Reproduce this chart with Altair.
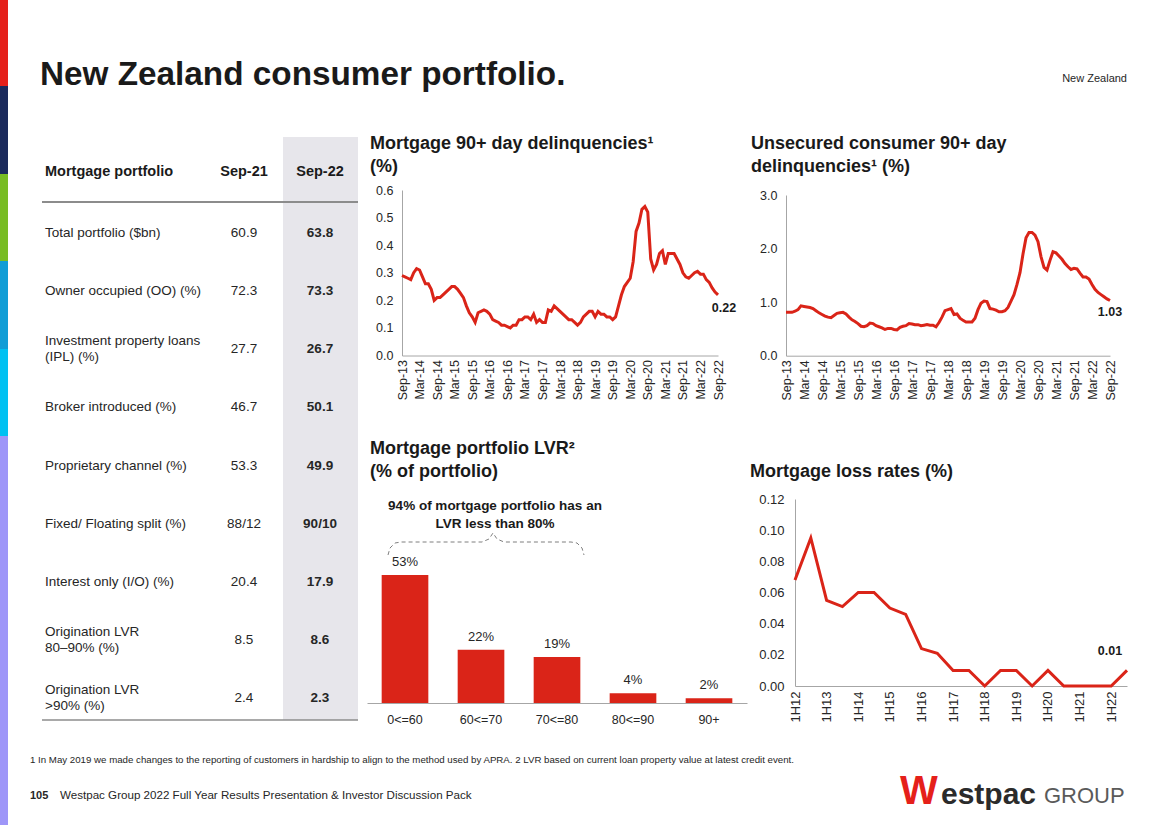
import altair as alt
import pandas as pd

FONT = "Arial"
RED = "#DA2418"
INK = "#1A1A1A"
LABEL = "#262626"
AXIS_GREY = "#A6A6A6"
CANVAS_W, CANVAS_H = 1168, 825

# ---------------- data ----------------
table_rows = [
    "Total portfolio ($bn)",
    "Owner occupied (OO) (%)",
    "Investment property loans\n(IPL) (%)",
    "Broker introduced (%)",
    "Proprietary channel (%)",
    "Fixed/ Floating split (%)",
    "Interest only (I/O) (%)",
    "Origination LVR\n80–90% (%)",
    "Origination LVR\n\u00a0>90% (%)",
]
sep21 = ["60.9", "72.3", "27.7", "46.7", "53.3", "88/12", "20.4", "8.5", "2.4"]
sep22 = ["63.8", "73.3", "26.7", "50.1", "49.9", "90/10", "17.9", "8.6", "2.3"]

MONTH_NAMES = ["Jan", "Feb", "Mar", "Apr", "May", "Jun",
               "Jul", "Aug", "Sep", "Oct", "Nov", "Dec"]
months = [f"{MONTH_NAMES[(8 + i) % 12]}-{13 + (8 + i) // 12}" for i in range(109)]
month_ticks = months[::6]

mortgage_90 = [
    0.29, 0.285, 0.28, 0.275, 0.30, 0.315, 0.31, 0.285, 0.26, 0.26,
    0.24, 0.20, 0.21, 0.21, 0.22, 0.23, 0.24, 0.25, 0.25, 0.24,
    0.225, 0.21, 0.18, 0.155, 0.14, 0.12, 0.155, 0.16, 0.165, 0.16,
    0.15, 0.13, 0.125, 0.12, 0.11, 0.11, 0.105, 0.10, 0.11, 0.11,
    0.13, 0.13, 0.14, 0.14, 0.13, 0.15, 0.12, 0.13, 0.12, 0.12,
    0.165, 0.16, 0.18, 0.17, 0.16, 0.15, 0.14, 0.13, 0.13, 0.12,
    0.11, 0.12, 0.14, 0.15, 0.16, 0.16, 0.14, 0.16, 0.15, 0.15,
    0.14, 0.14, 0.13, 0.14, 0.18, 0.22, 0.25, 0.265, 0.28, 0.34,
    0.45, 0.48, 0.53, 0.54, 0.52, 0.35, 0.31, 0.33, 0.37, 0.38,
    0.33, 0.37, 0.37, 0.37, 0.35, 0.33, 0.30, 0.285, 0.28, 0.29,
    0.30, 0.305, 0.295, 0.295, 0.275, 0.265, 0.245, 0.23, 0.22,
]
unsecured_90 = [
    0.81, 0.81, 0.81, 0.83, 0.86, 0.93, 0.92, 0.91, 0.90, 0.88,
    0.84, 0.80, 0.77, 0.74, 0.72, 0.71, 0.75, 0.79, 0.80, 0.81,
    0.78, 0.72, 0.67, 0.64, 0.60, 0.55, 0.54, 0.56, 0.61, 0.60,
    0.56, 0.54, 0.52, 0.49, 0.51, 0.51, 0.49, 0.48, 0.53, 0.55,
    0.56, 0.60, 0.59, 0.58, 0.58, 0.56, 0.57, 0.58, 0.57, 0.57,
    0.54, 0.62, 0.72, 0.84, 0.86, 0.88, 0.77, 0.78, 0.70, 0.66,
    0.63, 0.63, 0.63, 0.70, 0.86, 0.98, 1.02, 1.01, 0.88, 0.87,
    0.85, 0.82, 0.82, 0.84, 0.90, 1.02, 1.14, 1.33, 1.55, 1.90,
    2.20, 2.30, 2.30, 2.25, 2.13, 1.85, 1.65, 1.60, 1.78, 1.94,
    1.92, 1.86, 1.80, 1.72, 1.66, 1.61, 1.63, 1.62, 1.54, 1.47,
    1.47, 1.43, 1.33, 1.24, 1.18, 1.14, 1.10, 1.06, 1.03,
]

lvr_bands = ["0<=60", "60<=70", "70<=80", "80<=90", "90+"]
lvr_share = [53, 22, 19, 4, 2]

halves = [f"{h}H{y}" for y in range(12, 23) for h in (1, 2)]
half_ticks = [h for h in halves if h.startswith("1H")]
loss_rates = [0.068, 0.095, 0.055, 0.051, 0.060, 0.060, 0.050, 0.046, 0.024, 0.021, 0.010,
              0.010, 0.000, 0.010, 0.010, 0.000, 0.010, 0.000, 0.000, 0.000, 0.000, 0.010]

# shape of the dashed brace (in its own small unit box)
brace_u = [0, 2, 7, 13, 94, 101, 105, 109, 116, 183, 189, 194, 196]
brace_v = [22, 15, 10, 9, 9, 6, 0, 6, 9, 9, 10, 15, 22]

# ---------------- helpers ----------------
def text_at(s, x, y, size, weight="normal", color=INK, align="left",
            baseline="alphabetic", line_height=None):
    kw = dict(align=align, baseline=baseline, font=FONT, fontSize=size,
              fontWeight=weight, color=color, lineBreak="\n")
    if line_height:
        kw["lineHeight"] = line_height
    return alt.Chart(pd.DataFrame({"t": [s]})).mark_text(**kw).encode(
        x=alt.value(x), y=alt.value(y), text="t:N")


def box(x, x2, y, y2, color):
    return alt.Chart(pd.DataFrame({"a": [0]})).mark_rect(color=color).encode(
        x=alt.value(x), x2=alt.value(x2), y=alt.value(y), y2=alt.value(y2))


def hrule(x, x2, y, color, width):
    return alt.Chart(pd.DataFrame({"a": [0]})).mark_rule(color=color, strokeWidth=width).encode(
        x=alt.value(x), x2=alt.value(x2), y=alt.value(y), y2=alt.value(y))


def y_axis(left_px, values, fmt, size=12.5, pad=9):
    return alt.Axis(orient="left", offset=-left_px, values=values, format=fmt, title=None,
                    grid=False, ticks=False, tickSize=0, domainColor=AXIS_GREY, domainWidth=1,
                    labelFont=FONT, labelFontSize=size, labelColor=LABEL, labelPadding=pad)


def x_axis(bottom_px, values, size=12.5, angle=270, pad=4, baseline=None):
    kw = dict(orient="bottom", offset=bottom_px - CANVAS_H, values=values, labelAngle=angle,
              title=None, grid=False, ticks=False, tickSize=0, domainColor=AXIS_GREY,
              domainWidth=1, labelFont=FONT, labelFontSize=size, labelColor=LABEL,
              labelPadding=pad, labelOverlap=False)
    if baseline:
        kw["labelBaseline"] = baseline
    return alt.Axis(**kw)


layers = []

# ---------------- slide furniture ----------------
bar_colors = ["#E5201A", "#1B2A5C", "#78BC24", "#119DD6", "#00C1F2", "#9E96F8"]
bar_edges = [0, 86, 174, 261, 349, 436, 825]
for i, c in enumerate(bar_colors):
    layers.append(box(0, 8, bar_edges[i], bar_edges[i + 1], c))

layers.append(text_at("New Zealand consumer portfolio.", 40, 85, 33.3, "bold"))
layers.append(text_at("New Zealand", 1127, 82, 11, align="right", color="#262626"))

# ---------------- table ----------------
layers.append(box(283, 358, 137, 720, "#E7E6EB"))
layers.append(hrule(42, 358, 202, "#8C8C8C", 2))
layers.append(hrule(42, 358, 720, "#8C8C8C", 1.5))
layers.append(text_at("Mortgage portfolio", 45, 176, 14.5, "bold"))
layers.append(text_at("Sep-21", 244, 176, 14.5, "bold", align="center"))
layers.append(text_at("Sep-22", 320, 176, 14.5, "bold", align="center"))

df_tab = pd.DataFrame({"row": table_rows, "a": sep21, "b": sep22,
                       "nlines": [r.count("\n") + 1 for r in table_rows]})
row_scale = alt.Scale(type="point", domain=table_rows, range=[233, 698], padding=0)
for n, shift in [(1, 0), (2, -8)]:
    layers.append(
        alt.Chart(df_tab).transform_filter(alt.datum.nlines == n)
        .mark_text(align="left", baseline="middle", font=FONT, fontSize=13.5, color=LABEL,
                   lineBreak="\n", lineHeight=16, dy=shift)
        .encode(x=alt.value(45), y=alt.Y("row:N", scale=row_scale, axis=None), text="row:N"))
for col, xpos, weight in [("a", 244, "normal"), ("b", 320, "bold")]:
    layers.append(
        alt.Chart(df_tab).mark_text(align="center", baseline="middle", font=FONT, fontSize=13.5,
                                    fontWeight=weight, color=LABEL)
        .encode(x=alt.value(xpos), y=alt.Y("row:N", scale=row_scale, axis=None),
                text=f"{col}:N"))

# ---------------- chart titles ----------------
layers.append(text_at("Mortgage 90+ day delinquencies¹\n(%)", 370, 149, 18, "bold", line_height=23))
layers.append(text_at("Unsecured consumer 90+ day\ndelinquencies¹ (%)", 751, 149, 18, "bold", line_height=23))
layers.append(text_at("Mortgage portfolio LVR²\n(% of portfolio)", 370, 454, 18, "bold", line_height=23))
layers.append(text_at("Mortgage loss rates (%)", 750, 477, 18, "bold"))

# ---------------- mortgage 90+ ----------------
df_m = pd.DataFrame({"i": range(len(months)), "month": months, "value": mortgage_90})
xs_m = alt.Scale(type="point", domain=months, range=[402, 718], padding=0)
ys_m = alt.Scale(domain=[0, 0.6], range=[355.5, 190], nice=False, zero=False)
layers.append(
    alt.Chart(df_m).mark_line(color=RED, strokeWidth=3).encode(
        x=alt.X("month:O", scale=xs_m, axis=x_axis(355.5, month_ticks)),
        y=alt.Y("value:Q", scale=ys_m,
                axis=y_axis(402, [0, 0.1, 0.2, 0.3, 0.4, 0.5, 0.6], ".1f")),
        order="i:Q"))
layers.append(
    alt.Chart(df_m.tail(1)).mark_text(font=FONT, fontSize=12.5, fontWeight="bold", color=INK,
                                      dx=6, dy=13).encode(
        x=alt.X("month:O", scale=xs_m, axis=None),
        y=alt.Y("value:Q", scale=ys_m, axis=None),
        text=alt.Text("value:Q", format=".2f")))

# ---------------- unsecured 90+ ----------------
df_u = pd.DataFrame({"i": range(len(months)), "month": months, "value": unsecured_90})
xs_u = alt.Scale(type="point", domain=months, range=[786, 1110], padding=0)
ys_u = alt.Scale(domain=[0, 3], range=[355.7, 195], nice=False, zero=False)
layers.append(
    alt.Chart(df_u).mark_line(color=RED, strokeWidth=3).encode(
        x=alt.X("month:O", scale=xs_u, axis=x_axis(355.7, month_ticks)),
        y=alt.Y("value:Q", scale=ys_u, axis=y_axis(786, [0, 1, 2, 3], ".1f")),
        order="i:Q"))
layers.append(
    alt.Chart(df_u.tail(1)).mark_text(font=FONT, fontSize=12.5, fontWeight="bold", color=INK,
                                      dx=0, dy=11).encode(
        x=alt.X("month:O", scale=xs_u, axis=None),
        y=alt.Y("value:Q", scale=ys_u, axis=None),
        text=alt.Text("value:Q", format=".2f")))

# ---------------- LVR bars ----------------
df_l = pd.DataFrame({"band": lvr_bands, "share": lvr_share,
                     "lab": [f"{v}%" for v in lvr_share]})
xs_l = alt.Scale(type="band", domain=lvr_bands, range=[367, 747],
                 paddingInner=0.386, paddingOuter=0.193)
ys_l = alt.Scale(domain=[0, 53], range=[703, 575], nice=False, zero=True)
layers.append(
    alt.Chart(df_l).mark_bar(color=RED).encode(
        x=alt.X("band:N", scale=xs_l, sort=None,
                axis=x_axis(703, lvr_bands, size=12.5, angle=0, pad=10, baseline="top")),
        y=alt.Y("share:Q", scale=ys_l, axis=None)))
layers.append(
    alt.Chart(df_l).mark_text(font=FONT, fontSize=13, color=LABEL, dy=-13).encode(
        x=alt.X("band:N", scale=xs_l, sort=None, axis=None),
        y=alt.Y("share:Q", scale=ys_l, axis=None),
        text="lab:N"))
layers.append(text_at("94% of mortgage portfolio has an\nLVR less than 80%", 495, 510, 13.5,
                      "bold", align="center", line_height=18))
df_b = pd.DataFrame({"i": range(len(brace_u)), "u": brace_u, "v": brace_v})
layers.append(
    alt.Chart(df_b).mark_line(color="#7F7F7F", strokeWidth=1, strokeDash=[4, 3]).encode(
        x=alt.X("u:Q", scale=alt.Scale(domain=[0, 196], range=[388, 584]), axis=None),
        y=alt.Y("v:Q", scale=alt.Scale(domain=[0, 22], range=[533, 555]), axis=None),
        order="i:Q"))

# ---------------- loss rates ----------------
df_r = pd.DataFrame({"i": range(len(halves)), "half": halves, "value": loss_rates})
xs_r = alt.Scale(type="point", domain=halves, range=[795, 1127], padding=0)
ys_r = alt.Scale(domain=[0, 0.12], range=[686, 499], nice=False, zero=False)
layers.append(
    alt.Chart(df_r).mark_line(color=RED, strokeWidth=3).encode(
        x=alt.X("half:O", scale=xs_r, axis=x_axis(686, half_ticks, size=13, pad=5)),
        y=alt.Y("value:Q", scale=ys_r,
                axis=y_axis(795, [0, 0.02, 0.04, 0.06, 0.08, 0.10, 0.12], ".2f", size=13, pad=11)),
        order="i:Q"))
layers.append(
    alt.Chart(df_r.tail(1)).mark_text(font=FONT, fontSize=12.5, fontWeight="bold", color=INK,
                                      dx=-17, dy=-19).encode(
        x=alt.X("half:O", scale=xs_r, axis=None),
        y=alt.Y("value:Q", scale=ys_r, axis=None),
        text=alt.Text("value:Q", format=".2f")))

# ---------------- footer ----------------
layers.append(text_at("1 In May 2019 we made changes to the reporting of customers in hardship to align "
                      "to the method used by APRA. 2 LVR based on current loan property value at latest "
                      "credit event.", 30, 763, 9.7, color="#262626"))
layers.append(text_at("105", 30, 799, 11, "bold", color="#262626"))
layers.append(text_at("Westpac Group 2022 Full Year Results Presentation & Investor Discussion Pack",
                      60, 799, 11.6, color="#262626"))
layers.append(text_at("W", 900, 804, 40, "bold", color="#E5201A"))
layers.append(text_at("estpac", 941, 804, 30, "bold", color="#2B2B2B"))
layers.append(text_at("GROUP", 1044, 803, 22, color="#5A5A5A"))

chart = (
    alt.layer(*layers)
    .resolve_scale(x="independent", y="independent")
    .properties(width=CANVAS_W, height=CANVAS_H, padding=0, background="white",
                autosize=alt.AutoSizeParams(type="none"))
    .configure_view(stroke=None)
)

chart.save("out.html", embed_options={"renderer": "svg", "actions": False})
